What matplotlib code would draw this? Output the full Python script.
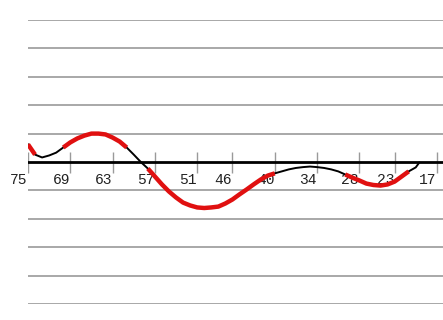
import numpy as np
import matplotlib
matplotlib.use('Agg')
from matplotlib import pyplot as plt
from matplotlib import font_manager

# ages along the x axis (descending left to right)
ages = [75, 74, 73, 72, 71, 70, 69, 68, 67, 66, 65, 64, 63, 62, 61, 60, 59, 58,
        57, 56, 55, 54, 53, 52, 51, 50, 49, 48, 47, 46, 45, 44, 43, 42, 41, 40,
        39, 38, 37, 36, 35, 34, 33, 32, 31, 30, 29, 28, 27, 26, 25, 24, 23, 22,
        21, 20, 19.5]
values = [0.62, 0.26, 0.16, 0.23, 0.33, 0.51, 0.69, 0.83, 0.93, 1.0, 1.0, 0.97,
          0.86, 0.72, 0.51, 0.26, 0.0, -0.23, -0.51, -0.79, -1.04, -1.25, -1.43,
          -1.53, -1.6, -1.62, -1.6, -1.57, -1.46, -1.32, -1.14, -0.97, -0.79,
          -0.62, -0.48, -0.40, -0.33, -0.26, -0.21, -0.18, -0.16, -0.18, -0.21,
          -0.26, -0.33, -0.44, -0.55, -0.65, -0.76, -0.81, -0.83, -0.79, -0.69,
          -0.51, -0.33, -0.19, -0.02]
# highlighted (red) stretches, as age ranges
highlights = [(75, 74), (70, 61), (58, 40), (30, 21)]
tick_ages = [75, 69, 63, 57, 51, 46, 40, 34, 28, 23, 17]
grid_levels = [-5, -4, -3, -2, -1, 1, 2, 3, 4, 5]

ages = np.array(ages)
values = np.array(values)

names = {f.name for f in font_manager.fontManager.ttflist}
mono = 'Liberation Mono' if 'Liberation Mono' in names else 'DejaVu Sans Mono'

fig = plt.figure(figsize=(4.43, 3.2), dpi=100)
ax = fig.add_axes([28/443, 16/320, 415/443, 284/320])
ax.set_xlim(75, 75 - 415/7.05)
ax.set_ylim(-5, 5)
ax.axis('off')

for g in grid_levels:
    ax.axhline(g, color='#9a9a9a', lw=1.2, zorder=1)
ax.axhline(0, color='black', lw=2, zorder=2)
ax.vlines(tick_ages, -0.37, 0.35, color='#9a9a9a', lw=1, zorder=1)

for a in tick_ages:
    ax.text(a + 1.3, -0.65, str(a), ha='center', va='center',
            fontsize=10.5, family=[mono, 'DejaVu Sans Mono'], color='#222222')

ax.plot(ages, values, color='black', lw=1.4, zorder=3)
for a0, a1 in highlights:
    m = (ages <= a0) & (ages >= a1)
    ax.plot(ages[m], values[m], color='#e01010', lw=3.2, zorder=4,
            solid_capstyle='butt')

fig.savefig('out.png', dpi=100)
